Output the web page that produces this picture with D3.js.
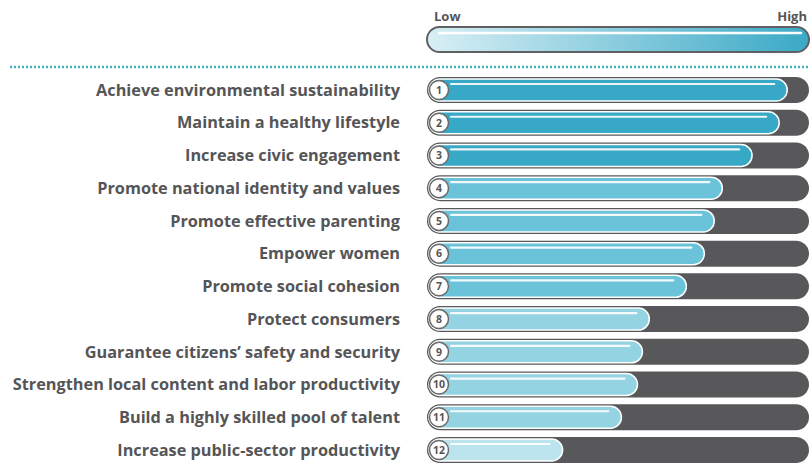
<!DOCTYPE html>
<html>
<head>
<meta charset="utf-8">
<script src="https://cdn.jsdelivr.net/npm/d3@7"></script>
<style>
  body { margin: 0; background: #fff; }
</style>
</head>
<body>
<div class="chart-div"></div>
<script>
//--------------------------- Data

var labels = [
    "Achieve environmental sustainability",
    "Maintain a healthy lifestyle",
    "Increase civic engagement",
    "Promote national identity and values",
    "Promote effective parenting",
    "Empower women",
    "Promote social cohesion",
    "Protect consumers",
    "Guarantee citizens\u2019 safety and security",
    "Strengthen local content and labor productivity",
    "Build a highly skilled pool of talent",
    "Increase public-sector productivity"
]
var ranks = [1, 2, 3, 4, 5, 6, 7, 8, 9, 10, 11, 12]
var values = [94.3, 92.2, 85.1, 77.3, 75.2, 72.6, 67.9, 58.2, 56.4, 55.1, 50.9, 35.5]
var tiers = [0, 0, 0, 1, 1, 1, 1, 2, 2, 2, 2, 3]
var legendLabels = ["Low", "High"]

//--------------------------- SVG definition

var width = 810;
var height = 468;

var svg = d3.select("div.chart-div")
    .append("svg")
    .attr("width", width)
    .attr("height", height)

var defs = svg.append("defs")
var grad = defs.append("linearGradient").attr("id", "legendgrad")
grad.append("stop").attr("offset", "0%").attr("stop-color", "#d8eff5")
grad.append("stop").attr("offset", "100%").attr("stop-color", "#3aa9c6")

//--------------------------- Scales

var x = d3.scaleLinear().domain([0, 100]).range([427, 809])
var y = d3.scalePoint().domain(labels).range([90, 450])
var tierColor = ["#37a8c5", "#6ac3d8", "#94d3e2", "#bce4ee"]
var fontFam = "'Open Sans', sans-serif"
var textCol = "#555557"

//--------------------------- Legend

var legend = svg.append("g")

legend.append("rect")
    .attr("x", x(0)).attr("y", 27)
    .attr("width", x(100) - x(0)).attr("height", 25)
    .attr("rx", 12.5)
    .attr("fill", "url(#legendgrad)")
    .attr("stroke", "#606062").attr("stroke-width", 2)

legend.append("line")
    .attr("x1", x(0) + 12).attr("x2", x(100) - 8)
    .attr("y1", 33).attr("y2", 33)
    .attr("stroke", "white").attr("stroke-width", 2.5)
    .attr("stroke-linecap", "round")

legend.selectAll("text").data(legendLabels).enter()
    .append("text")
    .attr("x", function (d, i) { return i == 0 ? x(0) + 7 : x(100) - 2; })
    .attr("y", 21)
    .attr("text-anchor", function (d, i) { return i == 0 ? "start" : "end"; })
    .attr("font-family", fontFam)
    .attr("font-weight", 700)
    .attr("font-size", 13)
    .attr("fill", textCol)
    .text(function (d) { return d; })

//--------------------------- Dotted separator

svg.append("line")
    .attr("x1", 10).attr("x2", width)
    .attr("y1", 67).attr("y2", 67)
    .attr("stroke", "#43aebf").attr("stroke-width", 2.5)
    .attr("stroke-dasharray", "2,2")

//--------------------------- Rows

var rows = svg.selectAll("g.row").data(labels).enter()
    .append("g")
    .attr("class", "row")
    .attr("transform", function (d) { return "translate(0," + y(d) + ")"; })

rows.append("text")
    .attr("x", 400)
    .attr("y", 0)
    .attr("dy", "0.35em")
    .attr("text-anchor", "end")
    .attr("font-family", fontFam)
    .attr("font-weight", 700)
    .attr("font-size", 16.3)
    .attr("fill", textCol)
    .text(function (d) { return d; })

// dark track
rows.append("rect")
    .attr("x", x(0)).attr("y", -13)
    .attr("width", x(100) - x(0)).attr("height", 26)
    .attr("rx", 13)
    .attr("fill", "#58585a")

// value bar
rows.append("rect")
    .attr("x", x(0) + 2).attr("y", -11)
    .attr("width", function (d, i) { return x(values[i]) - x(0) - 2; })
    .attr("height", 22)
    .attr("rx", 11)
    .attr("fill", function (d, i) { return tierColor[tiers[i]]; })
    .attr("stroke", "white").attr("stroke-width", 1.5)

// gloss highlight
rows.append("line")
    .attr("x1", x(0) + 24)
    .attr("x2", function (d, i) { return x(values[i]) - 13; })
    .attr("y1", -6).attr("y2", -6)
    .attr("stroke", "white").attr("stroke-width", 2.2)
    .attr("stroke-linecap", "round")
    .attr("opacity", 0.9)

// rank badge
rows.append("circle")
    .attr("cx", x(0) + 12).attr("cy", 0)
    .attr("r", 9.5)
    .attr("fill", "white")
    .attr("stroke", "#6a6a6c").attr("stroke-width", 1.5)

rows.append("text")
    .attr("x", x(0) + 12)
    .attr("y", 0)
    .attr("dy", "0.36em")
    .attr("text-anchor", "middle")
    .attr("font-family", fontFam)
    .attr("font-weight", 700)
    .attr("font-size", 10.5)
    .attr("fill", textCol)
    .text(function (d, i) { return ranks[i]; })
</script>
</body>
</html>
